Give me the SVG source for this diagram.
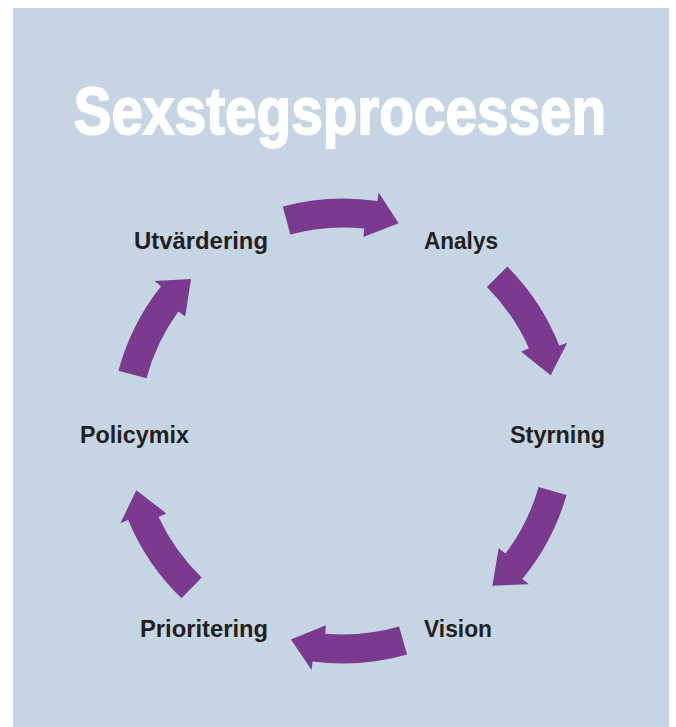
<svg xmlns="http://www.w3.org/2000/svg" xmlns:xlink="http://www.w3.org/1999/xlink" width="676" height="727" viewBox="0 0 676 727">
  <style>
    .bg { fill: #c6d5e3; }
    .title { font-family: "Liberation Sans", Arial, sans-serif; font-weight: bold; font-size: 67px; fill: #ffffff; stroke: #ffffff; stroke-width: 1.8; text-anchor: middle; }
    .label { font-family: "Liberation Sans", Arial, sans-serif; font-weight: bold; font-size: 23px; fill: #231f20; }
    .arrow { fill: #7b3a8d; }
  </style>
  <defs>
    <path id="arc-arrow" class="arrow" d="M282.82,206.42 A232.5,232.5 0 0 1 377.4,201.05 L378.6,192.6 L398.65,223.33 L363.4,237.1 L364.27,228.61 A203.5,203.5 0 0 0 290.33,234.43 Z"/>
  </defs>
  <rect class="bg" x="13" y="8" width="656" height="719"/>
  <text class="title" transform="translate(340 134) scale(0.846 1)" x="0" y="0">Sexstegsprocessen</text>
  <g id="connectors">
    <use xlink:href="#arc-arrow" href="#arc-arrow"/>
    <use xlink:href="#arc-arrow" href="#arc-arrow" transform="rotate(60 343 431)"/>
    <use xlink:href="#arc-arrow" href="#arc-arrow" transform="rotate(121 343 431)"/>
    <use xlink:href="#arc-arrow" href="#arc-arrow" transform="rotate(179 343 431)"/>
    <use xlink:href="#arc-arrow" href="#arc-arrow" transform="rotate(239 343 431)"/>
    <use xlink:href="#arc-arrow" href="#arc-arrow" transform="rotate(300 343 431)"/>
  </g>
  <g id="node-analys"><text class="label" x="424" y="249" textLength="74" lengthAdjust="spacingAndGlyphs">Analys</text></g>
  <g id="node-styrning"><text class="label" x="510" y="443" textLength="95" lengthAdjust="spacingAndGlyphs">Styrning</text></g>
  <g id="node-vision"><text class="label" x="424" y="637" textLength="68" lengthAdjust="spacingAndGlyphs">Vision</text></g>
  <g id="node-prioritering"><text class="label" x="140" y="637" textLength="128" lengthAdjust="spacingAndGlyphs">Prioritering</text></g>
  <g id="node-policymix"><text class="label" x="80" y="443" textLength="109" lengthAdjust="spacingAndGlyphs">Policymix</text></g>
  <g id="node-utvardering"><text class="label" x="134" y="249" textLength="134" lengthAdjust="spacingAndGlyphs">Utvärdering</text></g>
</svg>
